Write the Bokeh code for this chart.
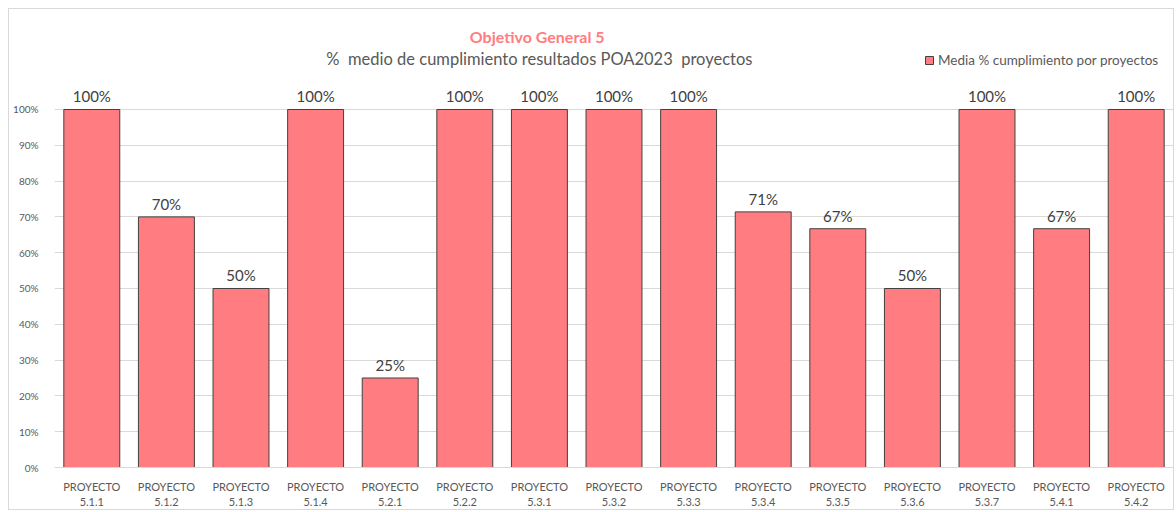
from bokeh.plotting import figure
from bokeh.models import (ColumnDataSource, LabelSet, Label, FixedTicker, NumeralTickFormatter,
                          Range1d, Legend, LegendItem)
from bokeh.core.properties import value
from bokeh.embed import file_html
from bokeh.resources import INLINE

categories = ["PROYECTO\n5.1.1", "PROYECTO\n5.1.2", "PROYECTO\n5.1.3", "PROYECTO\n5.1.4",
              "PROYECTO\n5.2.1", "PROYECTO\n5.2.2", "PROYECTO\n5.3.1", "PROYECTO\n5.3.2",
              "PROYECTO\n5.3.3", "PROYECTO\n5.3.4", "PROYECTO\n5.3.5", "PROYECTO\n5.3.6",
              "PROYECTO\n5.3.7", "PROYECTO\n5.4.1", "PROYECTO\n5.4.2"]
values = [1.0, 0.70, 0.50, 1.0, 0.25, 1.0, 1.0, 1.0, 1.0, 0.714, 0.667, 0.50, 1.0, 0.667, 1.0]
series_name = "Media % cumplimiento por proyectos"
title_text = "Objetivo General 5"
subtitle_text = "%\u00a0 medio de cumplimiento resultados POA2023\u00a0 proyectos"
y_ticks = [0, 0.1, 0.2, 0.3, 0.4, 0.5, 0.6, 0.7, 0.8, 0.9, 1.0]

FONT = "Lato"
BAR = "#FF7C80"

xs = list(range(len(categories)))
src = ColumnDataSource(dict(
    x=xs, top=values,
    label=[f"{round(v * 100):d}%" for v in values],
))

p = figure(width=1166, height=502, output_backend="svg", toolbar_location=None,
           x_range=Range1d(-0.5, len(categories) - 0.5), y_range=Range1d(0, 1.2486),
           min_border_left=45, min_border_right=2, min_border_top=11, min_border_bottom=44)
p.styles = {"border": "1px solid #d9d9d9", "margin-left": "8px", "margin-top": "8px"}
p.outline_line_color = None
p.background_fill_color = "white"

r = p.vbar(x="x", top="top", width=0.75, source=src, fill_color=BAR,
           line_color="#404040", line_width=1)

# axes
p.xaxis.ticker = FixedTicker(ticks=xs)
p.xaxis.major_label_overrides = {i: c for i, c in enumerate(categories)}
p.xaxis.major_tick_line_color = None
p.xaxis.minor_tick_line_color = None
p.xaxis.axis_line_color = "#d9d9d9"
p.xaxis.major_label_text_font = FONT
p.xaxis.major_label_text_font_size = "11px"
p.xaxis.major_label_text_color = "#595959"
p.xaxis.major_label_standoff = 6

p.yaxis.ticker = FixedTicker(ticks=y_ticks)
p.yaxis.formatter = NumeralTickFormatter(format="0%")
p.yaxis.axis_line_color = None
p.yaxis.major_tick_line_color = None
p.yaxis.minor_tick_line_color = None
p.yaxis.major_label_text_font = FONT
p.yaxis.major_label_text_font_size = "10px"
p.yaxis.major_label_text_color = "#595959"
p.yaxis.major_label_standoff = 10

p.xgrid.grid_line_color = None
p.ygrid.ticker = FixedTicker(ticks=y_ticks)
p.ygrid.grid_line_color = "#d9d9d9"

labels = LabelSet(x="x", y="top", text="label", source=src, text_align="center",
                  text_baseline="bottom", y_offset=4, text_font=value(FONT),
                  text_font_size="15px", text_color="#404040")
p.add_layout(labels)

# titles
p.add_layout(Label(x=5.97, y=1.204, text=title_text, text_align="center", text_baseline="middle",
                   text_font=FONT, text_font_style="bold", text_font_size="16px",
                   text_color=BAR))
p.add_layout(Label(x=6.0, y=1.14, text=subtitle_text, text_align="center", text_baseline="middle",
                   text_font=FONT, text_font_size="16.5px", text_color="#595959"))

legend = Legend(items=[LegendItem(label=series_name, renderers=[r])],
                location=(870, 399), border_line_color=None, background_fill_alpha=0,
                label_text_font=FONT, label_text_font_size="13.5px", label_text_color="#595959",
                glyph_width=10, glyph_height=10, label_standoff=4, padding=2, margin=0)
p.add_layout(legend)

open("out.html", "w").write(file_html(p, INLINE))
